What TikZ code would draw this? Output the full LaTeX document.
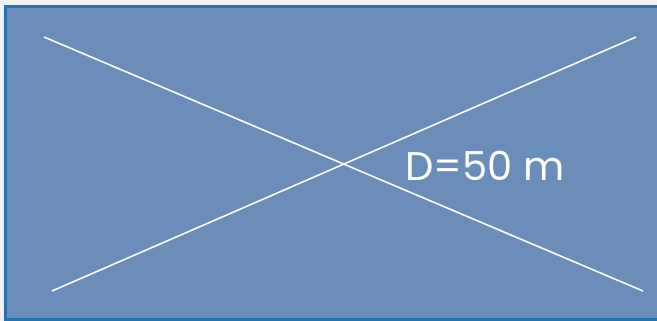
\documentclass[tikz,border=0pt]{standalone}
\usepackage{fontspec}
\setmainfont{Poppins}
\usetikzlibrary{positioning}
\definecolor{pagebg}{HTML}{EEF1F5}
\definecolor{fieldfill}{HTML}{6A8DBA}
\definecolor{fieldedge}{HTML}{2571B3}

\begin{document}
\begin{tikzpicture}[
  x=1pt, y=-1pt,
  crossline/.style={draw=white, line width=1.6pt},
  dimlabel/.style={text=white, inner sep=0pt, font=\fontsize{40}{44}\selectfont},
]
  \fill[pagebg] (0,0) rectangle (657,321);
  \useasboundingbox (0,0) rectangle (657,321);
  \begin{scope}
    \clip (0,0) rectangle (657,321);
    \draw[fill=fieldfill, draw=fieldedge, line width=3.2pt] (5.5,6.5) rectangle (680,319.5);
  \end{scope}

  \coordinate (tl) at (44,37);
  \coordinate (br) at (643,291);
  \coordinate (bl) at (52,291);
  \coordinate (tr) at (636,37);
  \draw[crossline] (tl) -- (br);
  \draw[crossline] (bl) -- (tr);

  \node[dimlabel] (dist) at (485,166) {D=50 m};
\end{tikzpicture}
\end{document}
